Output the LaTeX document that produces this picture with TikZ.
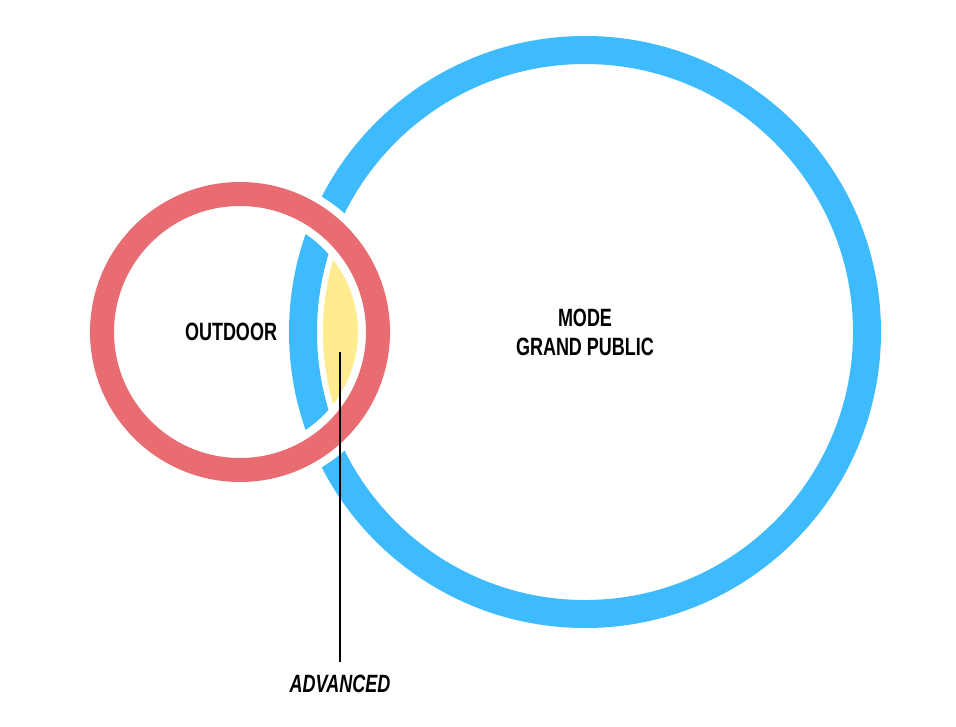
\documentclass[tikz,border=0pt]{standalone}
\usepackage{fontspec}
\setmainfont{Liberation Sans}[FakeStretch=0.72]
\begin{document}
\begin{tikzpicture}[x=1pt,y=-1pt,
  lbl/.style={font=\bfseries\fontsize{25}{29}\selectfont,align=center,inner sep=0}]
\useasboundingbox[fill=white] (0,0) rectangle (956,726);
\coordinate (rc) at (240,332);
\coordinate (bc) at (585,332);
\draw[line width=28,color={rgb,255:red,62;green,187;blue,252}] (bc) circle[radius=282];
\begin{scope}
\clip (bc) circle[radius=262];
\fill[color={rgb,255:red,255;green,236;blue,143}] (rc) circle[radius=120];
\end{scope}
\draw[line width=40,white] (rc) circle[radius=138];
\draw[line width=24,color={rgb,255:red,232;green,108;blue,114}] (rc) circle[radius=138];
\node[lbl] (out) at (231,332) {OUTDOOR};
\node[lbl] (mode) at (585,332) {MODE\\GRAND PUBLIC};
\coordinate (lens) at (340,352);
\node[lbl,font=\bfseries\itshape\fontsize{25}{29}\selectfont,anchor=north] (adv) at (340,675) {ADVANCED};
\draw[line width=2] (lens) -- (340,662);
\end{tikzpicture}
\end{document}
